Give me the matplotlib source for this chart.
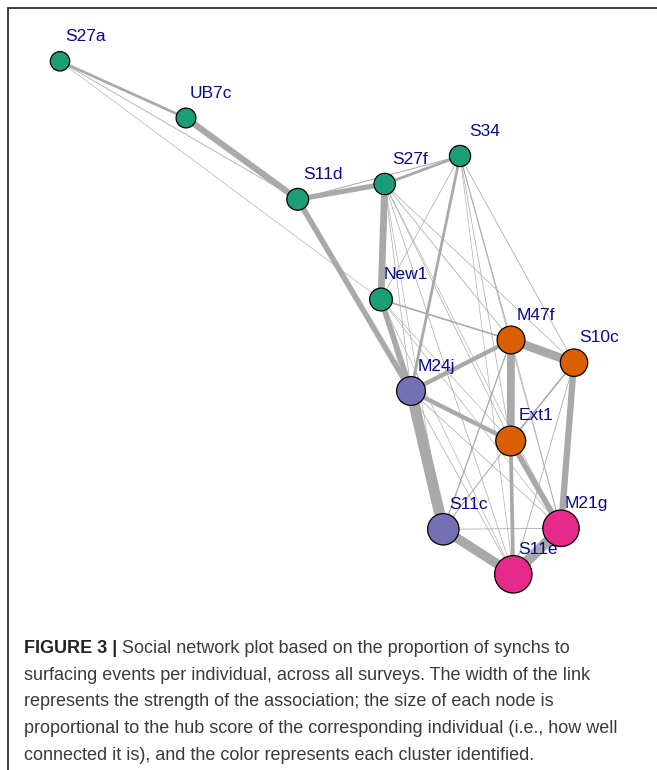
import matplotlib
matplotlib.use("Agg")
import matplotlib.pyplot as plt
from matplotlib.patches import Circle

# ---------------- data ----------------
nodes = ['S27a', 'UB7c', 'S11d', 'S27f', 'S34', 'New1', 'M47f',
         'S10c', 'M24j', 'Ext1', 'S11c', 'M21g', 'S11e']
layout_x = [60, 186, 297.7, 384.7, 460, 381, 511, 574, 411, 510.7, 443.3, 561, 513.3]
layout_y = [61.3, 118, 199.3, 184, 156, 299.5, 340, 362.7, 391, 441, 529.3, 528.3, 574.3]
hub_size = [10.3, 10.5, 11.5, 11.3, 11.2, 12.0, 14.5, 14.3, 15.0, 15.5, 16.3, 18.8, 19.3]
cluster = [1, 1, 1, 1, 1, 1, 2, 2, 3, 2, 3, 4, 4]
cluster_colors = {1: '#1B9E77', 2: '#D95F02', 3: '#7570B3', 4: '#E7298A'}

edge_from = ['S27a', 'S27a', 'S27a', 'UB7c', 'S11d', 'S11d', 'S11d',
             'S27f', 'S27f', 'S27f', 'S27f', 'S27f', 'S27f', 'S27f', 'S27f', 'S27f',
             'S34', 'S34', 'S34', 'S34', 'S34', 'S34', 'S34',
             'New1', 'New1', 'New1', 'New1', 'New1', 'New1',
             'M24j', 'M24j', 'M24j', 'M24j', 'M24j',
             'M47f', 'M47f', 'M47f', 'M47f', 'M47f',
             'S10c', 'S10c', 'S10c',
             'Ext1', 'Ext1', 'Ext1',
             'S11c', 'S11c', 'M21g']
edge_to = ['UB7c', 'S11d', 'New1', 'S11d', 'S27f', 'S34', 'M24j',
           'S34', 'New1', 'M24j', 'M47f', 'S10c', 'Ext1', 'S11c', 'M21g', 'S11e',
           'M24j', 'New1', 'M47f', 'S10c', 'Ext1', 'M21g', 'S11e',
           'M24j', 'M47f', 'Ext1', 'S11c', 'S11e', 'M21g',
           'M47f', 'Ext1', 'S11c', 'S11e', 'M21g',
           'S10c', 'Ext1', 'S11c', 'S11e', 'M21g',
           'M21g', 'Ext1', 'S11e',
           'M21g', 'S11e', 'S11c',
           'S11e', 'M21g', 'S11e']
edge_weight = [2.7, 0.8, 0.6, 6.3, 5.2, 1.0, 5.6,
               2.8, 6.8, 0.7, 0.8, 0.7, 0.7, 0.6, 0.6, 0.7,
               2.8, 0.7, 0.9, 0.8, 0.7, 0.6, 0.6,
               5.6, 1.6, 0.6, 0.6, 0.6, 0.6,
               4.4, 4.4, 11.0, 0.7, 0.7,
               8.8, 7.8, 1.3, 0.7, 0.7,
               6.3, 1.6, 0.8,
               5.6, 3.7, 1.0,
               9.5, 0.8, 10.5]

caption_bold = 'FIGURE 3 |'
caption_lines = [
    ' Social network plot based on the proportion of synchs to',
    'surfacing events per individual, across all surveys. The width of the link',
    'represents the strength of the association; the size of each node is',
    'proportional to the hub score of the corresponding individual (i.e., how well',
    'connected it is), and the color represents each cluster identified.',
]

# ---------------- figure ----------------
W, H = 657, 770
fig = plt.figure(figsize=(W / 100, H / 100), dpi=100)
ax = fig.add_axes([0, 0, 1, 1])
ax.set_xlim(0, W)
ax.set_ylim(H, 0)
ax.set_aspect('equal')
ax.axis('off')

px = 0.72  # points per pixel at 100 dpi
idx = {n: i for i, n in enumerate(nodes)}

# frame (left and top)
ax.plot([7.5, 7.5, W + 5], [H + 5, 7.5, 7.5], color='#2a2a2a', lw=1.3,
        solid_joinstyle='miter', zorder=0)

# edges
for a, b, w in zip(edge_from, edge_to, edge_weight):
    i, j = idx[a], idx[b]
    ax.plot([layout_x[i], layout_x[j]], [layout_y[i], layout_y[j]],
            color='#A9A9A9', lw=w * px, solid_capstyle='butt', zorder=1)

# vertices
for i, n in enumerate(nodes):
    c = Circle((layout_x[i], layout_y[i]), hub_size[i] - 0.6,
               facecolor=cluster_colors[cluster[i]], edgecolor='black',
               lw=0.9, zorder=3)
    ax.add_patch(c)

# labels
for i, n in enumerate(nodes):
    ax.annotate(n, (layout_x[i], layout_y[i]), xytext=(25, 25),
                textcoords='offset pixels', ha='center', va='center',
                fontsize=12.5, color='#0a0a8a', family='Liberation Sans',
                zorder=4)

# caption
base_y = 653
dy = 26.7
fs = 13
t0 = ax.text(24, base_y, caption_bold, fontsize=fs, fontweight='bold',
             family='Liberation Sans', color='#222222', va='baseline', ha='left')
ax.annotate(caption_lines[0], xy=(1, 0), xycoords=t0, ha='left', va='bottom',
            fontsize=fs, family='Liberation Sans', color='#3a3a3a')
for k, line in enumerate(caption_lines[1:], start=1):
    ax.text(24, base_y + dy * k, line, fontsize=fs, family='Liberation Sans',
            color='#3a3a3a', va='baseline', ha='left')

fig.savefig('out.png', dpi=100)
